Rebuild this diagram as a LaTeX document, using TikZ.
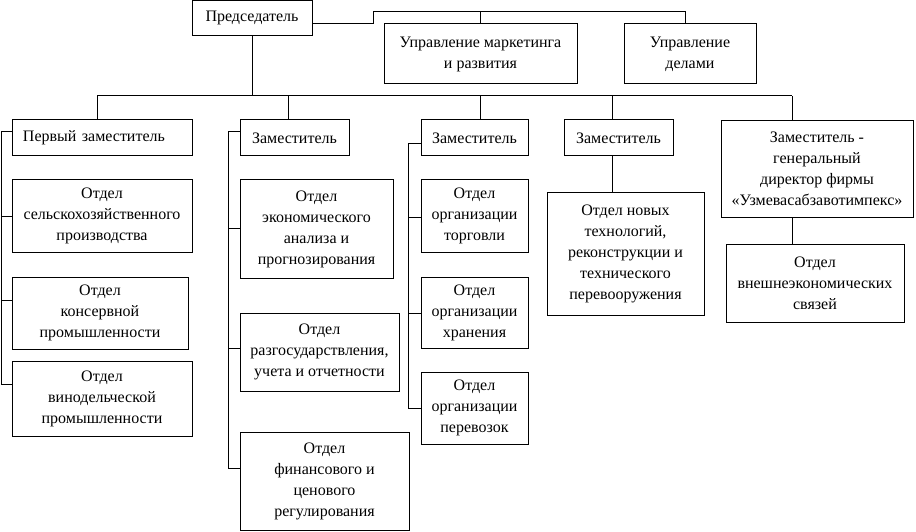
\documentclass[tikz,border=0pt]{standalone}
\usepackage{fontspec}
\setmainfont{Liberation Serif}
\begin{document}
\begin{tikzpicture}[x=1pt,y=-1pt,
  box/.style={draw, line width=1pt, align=center, inner sep=0pt, font=\fontsize{16}{21}\selectfont},
  conn/.style={line width=1pt}]
\useasboundingbox (0,0) rectangle (916,532);
\newcommand\bx[7][]{\node[box, minimum width={(#5-#3)*1pt}, minimum height={(#6-#4)*1pt}, #1] (#2) at ({(#3+#5)/2},{(#4+#6)/2}) {#7};}
% top level
\bx{chair}{192}{0.5}{312}{36}{Председатель}
\bx{mark}{384}{24}{577}{84}{Управление маркетинга\\и развития}
\bx{delami}{624}{24}{756}{84}{Управление\\делами}
% deputies
\bx[align=left, text width=158pt]{z1}{12}{120}{192}{156}{Первый заместитель}
\bx{z2}{240}{120}{349}{156}{Заместитель}
\bx{z3}{421}{120}{528}{156}{Заместитель}
\bx{z4}{564}{120}{673}{156}{Заместитель}
\bx{z5}{721}{121}{913}{217}{Заместитель -\\генеральный\\директор фирмы\\«Узмевасабзавотимпекс»}
% departments
\bx{a1}{12}{180}{192}{252}{Отдел\\сельскохозяйственного\\производства}
\bx{a2}{12}{277}{188}{349}{Отдел\\консервной\\промышленности}
\bx{a3}{12}{361}{192}{436}{Отдел\\винодельческой\\промышленности}
\bx{b1}{240}{180}{393}{278}{Отдел\\экономического\\анализа и\\прогнозирования}
\bx{b2}{240}{313}{399}{391}{Отдел\\разгосударствления,\\учета и отчетности}
\bx{b3}{240}{432}{409}{530}{Отдел\\финансового и\\ценового\\регулирования}
\bx{c1}{421}{180}{528}{252}{Отдел\\организации\\торговли}
\bx{c2}{421}{277}{528}{348}{Отдел\\организации\\хранения}
\bx{c3}{421}{372}{528}{444}{Отдел\\организации\\перевозок}
\bx{d1}{547}{192}{704}{315}{Отдел новых\\технологий,\\реконструкции и\\технического\\перевооружения}
\bx{e1}{726}{244}{904}{322}{Отдел\\внешнеэкономических\\связей}
% connectors top
\coordinate (j1) at (373,24);
\coordinate (k1) at (373,12);
\coordinate (k2) at (685,12);
\coordinate (k3) at (480,12);
\draw[conn] (chair.east |- j1) -- (j1) -- (k1) -- (k2) -- (delami.north -| k2);
\draw[conn] (k3) -- (mark.north -| k3);
% bus
\coordinate (b0) at (252,96);
\coordinate (p1) at (97,96);
\coordinate (p2) at (288,96);
\coordinate (p3) at (480,96);
\coordinate (p4) at (612,96);
\coordinate (p5) at (792,96);
\draw[conn] (chair.south) -- (b0);
\draw[conn] (p1) -- (p5);
\draw[conn] (p1) -- (z1.north -| p1);
\draw[conn] (p2) -- (z2.north -| p2);
\draw[conn] (p3) -- (z3.north -| p3);
\draw[conn] (p4) -- (z4.north -| p4);
\draw[conn] (p5) -- (z5.north -| p5);
\draw[conn] (z4.south -| p4) -- (d1.north -| p4);
\draw[conn] (z5.south -| p5) -- (e1.north -| p5);
% spine 1
\coordinate (s1) at (1,132);
\coordinate (s1a) at (1,216);
\coordinate (s1b) at (1,300);
\coordinate (s1c) at (1,384);
\draw[conn] (z1.west |- s1) -- (s1) -- (s1c) -- (a3.west |- s1c);
\draw[conn] (s1a) -- (a1.west |- s1a);
\draw[conn] (s1b) -- (a2.west |- s1b);
% spine 2
\coordinate (s2) at (228,132);
\coordinate (s2a) at (228,228);
\coordinate (s2b) at (228,348);
\coordinate (s2c) at (228,468);
\draw[conn] (z2.west |- s2) -- (s2) -- (s2c) -- (b3.west |- s2c);
\draw[conn] (s2a) -- (b1.west |- s2a);
\draw[conn] (s2b) -- (b2.west |- s2b);
% spine 3
\coordinate (s3) at (408,144);
\coordinate (s3a) at (408,217);
\coordinate (s3b) at (408,313);
\coordinate (s3c) at (408,408);
\draw[conn] (z3.west |- s3) -- (s3) -- (s3c) -- (c3.west |- s3c);
\draw[conn] (s3a) -- (c1.west |- s3a);
\draw[conn] (s3b) -- (c2.west |- s3b);
\end{tikzpicture}
\end{document}
